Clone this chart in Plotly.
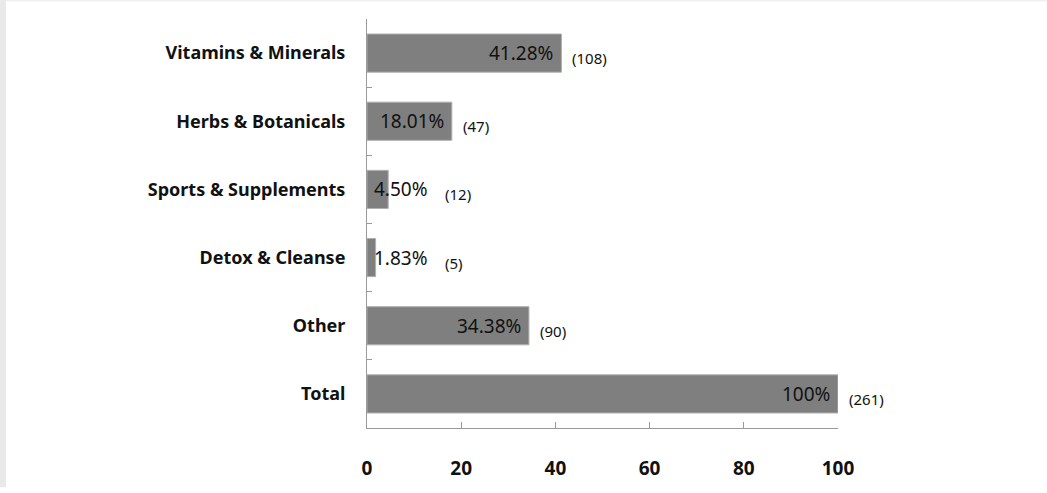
import plotly.graph_objects as go

categories = ["Vitamins & Minerals", "Herbs & Botanicals", "Sports & Supplements",
              "Detox & Cleanse", "Other", "Total"]
percents = [41.28, 18.01, 4.50, 1.83, 34.38, 100]
pct_labels = ["41.28%", "18.01%", "4.50%", "1.83%", "34.38%", "100%"]
counts = [108, 47, 12, 5, 90, 261]
x_ticks = [0, 20, 40, 60, 80, 100]

W, H = 1047, 493
L, R, T, B = 367, 209, 19, 60
PW, PH = W - L - R, H - T - B
FONT = "Noto Sans"

fig = go.Figure()
fig.add_trace(go.Bar(
    y=categories, x=percents, orientation="h",
    marker=dict(color="#7f7f7f", line=dict(color="#b0b0b0", width=1)),
    width=0.56, hoverinfo="skip", showlegend=False,
))

annotations = []
for cat, v, lab, c in zip(categories, percents, pct_labels, counts):
    inside = v > 10
    if inside:
        annotations.append(dict(x=v, y=cat, text=lab, showarrow=False, xanchor="right",
                                xshift=-6, font=dict(family=FONT, size=19, color="#111111")))
        annotations.append(dict(x=v, y=cat, text=f"({c})", showarrow=False, xanchor="left",
                                xshift=9, yshift=-5, font=dict(family=FONT, size=15, color="#111111")))
    else:
        annotations.append(dict(x=0, y=cat, text=lab, showarrow=False, xanchor="left",
                                xshift=5, font=dict(family=FONT, size=19, color="#111111")))
        annotations.append(dict(x=0, y=cat, text=f"({c})", showarrow=False, xanchor="left",
                                xshift=76, yshift=-5, font=dict(family=FONT, size=15, color="#111111")))

shapes = [
    # light gray frame of the original image
    dict(type="rect", xref="paper", yref="paper", layer="below",
         x0=-L / PW, x1=(-L + 6) / PW, y0=-B / PH, y1=(H - B) / PH,
         fillcolor="#e9e9e9", line=dict(width=0)),
    dict(type="rect", xref="paper", yref="paper", layer="below",
         x0=-L / PW, x1=(W - L) / PW, y0=(H - B - 1) / PH, y1=(H - B) / PH,
         fillcolor="#e9e9e9", line=dict(width=0)),
]

fig.update_layout(
    width=W, height=H,
    margin=dict(l=L, r=R, t=T, b=B),
    paper_bgcolor="white", plot_bgcolor="white",
    bargap=0.44,
    annotations=annotations, shapes=shapes,
    xaxis=dict(range=[0, 100], tickvals=x_ticks, showgrid=False, zeroline=False,
               showline=True, linecolor="#9a9a9a", linewidth=1,
               ticks="inside", ticklen=6, tickcolor="#9a9a9a",
               ticklabelstandoff=23,
               tickfont=dict(family=FONT, size=19, color="#111111", weight="bold")),
    yaxis=dict(categoryorder="array", categoryarray=categories[::-1],
               showgrid=False, zeroline=False,
               showline=True, linecolor="#9a9a9a", linewidth=1,
               ticks="inside", ticklen=5, tickcolor="#9a9a9a", tickson="boundaries",
               ticklabelstandoff=17,
               tickfont=dict(family=FONT, size=18, color="#111111", weight="bold")),
    font=dict(family=FONT),
)

fig.write_html("out.html")
